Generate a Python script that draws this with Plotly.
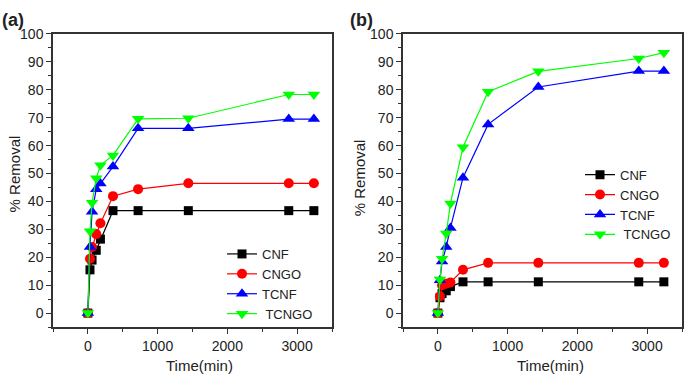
import plotly.graph_objects as go

# ---- data ----
times = [0, 30, 60, 120, 180, 360, 720, 1440, 2880, 3240]

cnf_a = [0, 15.5, 19.0, 22.5, 26.5, 36.7, 36.7, 36.7, 36.7, 36.7]
cngo_a = [0, 19.5, 23.7, 28.3, 32.2, 41.9, 44.4, 46.5, 46.5, 46.5]
tcnf_a = [0, 23.7, 36.3, 44.4, 46.4, 52.5, 66.2, 66.2, 69.5, 69.5]
tcngo_a = [0, 29.3, 39.5, 48.3, 53.0, 56.5, 69.6, 69.8, 78.3, 78.3]

cnf_b = [0, 5.5, 7.0, 8.0, 9.5, 11.2, 11.2, 11.2, 11.2, 11.2]
cngo_b = [0, 6.0, 10.0, 10.5, 11.0, 15.5, 18.0, 18.0, 18.0, 18.0]
tcnf_b = [0, 11.8, 18.5, 23.7, 30.5, 48.5, 67.6, 81.0, 86.7, 86.7]
tcngo_b = [0, 12.0, 19.5, 28.5, 39.3, 59.4, 79.3, 86.6, 91.2, 93.3]

names = ["CNF", "CNGO", "TCNF", " TCNGO"]
colors = ["#000000", "#FF0000", "#0000FF", "#00FF00"]
symbols = ["square", "circle", "triangle-up", "triangle-down"]
sizes = [9, 10, 11, 11]

x_ticks = [0, 1000, 2000, 3000]
y_ticks = [0, 10, 20, 30, 40, 50, 60, 70, 80, 90, 100]

fig = go.Figure()

panels = [
    ([cnf_a, cngo_a, tcnf_a, tcngo_a], "x", "y", "legend"),
    ([cnf_b, cngo_b, tcnf_b, tcngo_b], "x2", "y2", "legend2"),
]
for series, xa, ya, lg in panels:
    for vals, nm, c, s, sz in zip(series, names, colors, symbols, sizes):
        fig.add_trace(go.Scatter(
            x=times, y=vals, name=nm, mode="lines+markers",
            line=dict(color=c, width=1.2),
            marker=dict(symbol=s, size=sz, color=c, line=dict(width=0)),
            xaxis=xa, yaxis=ya, legend=lg,
        ))

font_family = "Liberation Sans, Arial, sans-serif"
axis_common = dict(
    showline=True, linecolor="#333333", linewidth=1.5, mirror=True,
    ticks="outside", ticklen=5, tickwidth=1.2, tickcolor="#333333",
    showgrid=False, zeroline=False,
    tickfont=dict(family=font_family, size=14, color="#222222"),
)
xaxis_common = dict(axis_common, range=[-500, 3500], tickvals=x_ticks,
                    minor=dict(ticks="outside", ticklen=3, dtick=500, tick0=0,
                               tickcolor="#333333", tickwidth=1.2))
yaxis_common = dict(axis_common, range=[-5, 100], tickvals=y_ticks,
                    minor=dict(ticks="outside", ticklen=3, dtick=5, tick0=0,
                               tickcolor="#333333", tickwidth=1.2))

W, H = 685, 376
top = 1 - 26.5 / H
bot = 1 - 326 / H

fig.update_layout(
    width=W, height=H,
    margin=dict(l=0, r=0, t=0, b=0),
    paper_bgcolor="white", plot_bgcolor="white",
    font=dict(family=font_family, color="#222222"),
    xaxis=dict(xaxis_common, domain=[53 / W, 332 / W], anchor="y"),
    yaxis=dict(yaxis_common, domain=[bot, top], anchor="x"),
    xaxis2=dict(xaxis_common, domain=[403 / W, 682 / W], anchor="y2"),
    yaxis2=dict(yaxis_common, domain=[bot, top], anchor="x2"),
    legend=dict(x=222 / W, y=1 - 236 / H, xanchor="left", yanchor="top",
                bgcolor="rgba(0,0,0,0)", font=dict(size=13, family=font_family),
                tracegroupgap=0, itemwidth=30),
    legend2=dict(x=580 / W, y=1 - 155 / H, xanchor="left", yanchor="top",
                 bgcolor="rgba(0,0,0,0)", font=dict(size=13, family=font_family),
                 tracegroupgap=0, itemwidth=30),
    showlegend=True,
)

ann = [
    dict(text="<b>(a)</b>", x=0 / W, y=1.0, xanchor="left", yanchor="top",
         font=dict(size=18)),
    dict(text="<b>(b)</b>", x=348 / W, y=1.0, xanchor="left", yanchor="top",
         font=dict(size=18)),
    dict(text="% Removal", x=14 / W, y=1 - 170 / H, textangle=-90,
         xanchor="center", yanchor="middle", font=dict(size=15)),
    dict(text="% Removal", x=359 / W, y=1 - 174 / H, textangle=-90,
         xanchor="center", yanchor="middle", font=dict(size=15)),
    dict(text="Time(min)", x=200 / W, y=1 - 365 / H, xanchor="center",
         yanchor="middle", font=dict(size=15)),
    dict(text="Time(min)", x=550 / W, y=1 - 365 / H, xanchor="center",
         yanchor="middle", font=dict(size=15)),
]
for a in ann:
    a.update(xref="paper", yref="paper", showarrow=False)
    fig.add_annotation(**a)

fig.write_html("out.html",
               config={"displayModeBar": False},
               post_script="document.body.style.margin='0';document.body.style.padding='0';")
